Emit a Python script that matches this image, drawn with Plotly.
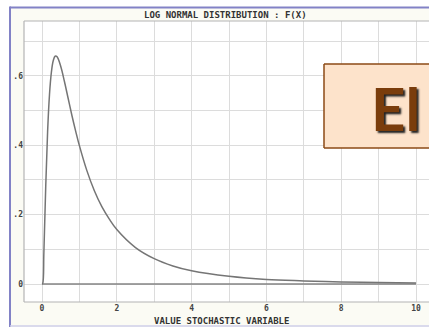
import plotly.graph_objects as go

W, H = 429, 327

# Curve readings (value of stochastic variable, f(x))
x_vals = [0.0, 0.02, 0.05, 0.1, 0.15, 0.2, 0.25, 0.3, 0.35, 0.4, 0.5, 0.6, 0.7, 0.8, 0.9, 1.0,
          1.2, 1.4, 1.6, 1.8, 2.0, 2.5, 3.0, 3.5, 4.0, 5.0, 6.0, 7.0, 8.0, 9.0, 10.0]
y_vals = [0.0, 0.002, 0.090, 0.282, 0.440, 0.546, 0.610, 0.644, 0.657, 0.656, 0.628, 0.584,
          0.535, 0.486, 0.441, 0.399, 0.327, 0.269, 0.223, 0.187, 0.157, 0.105, 0.073, 0.052,
          0.038, 0.022, 0.013, 0.009, 0.006, 0.004, 0.003]
base_x = [0.0, 10.0]
base_y = [0.0, 0.0]

x_ticks = [0, 1, 2, 3, 4, 5, 6, 7, 8, 9, 10]
x_ticktext = ["0", "", "2", "", "4", "", "6", "", "8", "", "10"]
y_ticks = [0, 0.1, 0.2, 0.3, 0.4, 0.5, 0.6, 0.7]
y_ticktext = ["0", "", ".2", "", ".4", "", ".6", ""]

title_text = "LOG NORMAL DISTRIBUTION : F(X)"
xtitle_text = "VALUE STOCHASTIC VARIABLE"
overlay_text = "El"

def px(x):
    return x / W

def py(y):
    return 1 - y / H

plot_l, plot_t, plot_b = 24, 21, 302
x0_px, x_scale = 42, 37.4
y0_px, y_scale = 284, 346.7

xr = [(plot_l - x0_px) / x_scale, (W - x0_px) / x_scale]
yr = [(y0_px - plot_b) / y_scale, (y0_px - plot_t) / y_scale]

fig = go.Figure()
fig.add_trace(go.Scatter(x=base_x, y=base_y, mode="lines",
                         line=dict(color="#858585", width=1.6), hoverinfo="skip"))
fig.add_trace(go.Scatter(x=x_vals, y=y_vals, mode="lines", line_shape="spline",
                         line=dict(color="#757575", width=1.5), hoverinfo="skip"))

mono = "DejaVu Sans Mono"
bold = lambda s: f"<b>{s}</b>" if s else ""

def hline(y, x0, x1, color, width):
    return dict(type="line", xref="paper", yref="paper", x0=px(x0), x1=px(x1), y0=py(y), y1=py(y),
                line=dict(color=color, width=width))

def vline(x, y0, y1, color, width):
    return dict(type="line", xref="paper", yref="paper", x0=px(x), x1=px(x), y0=py(y0), y1=py(y1),
                line=dict(color=color, width=width))

fig.update_layout(
    width=W, height=H,
    margin=dict(l=0, r=0, t=0, b=0),
    paper_bgcolor="white",
    plot_bgcolor="white",
    showlegend=False,
    xaxis=dict(domain=[px(plot_l), 1], range=xr, tickvals=x_ticks,
               ticktext=[bold(t) for t in x_ticktext],
               showgrid=True, gridcolor="#dcdcdc", gridwidth=1, zeroline=False,
               showline=False, ticks="", tickfont=dict(family=mono, size=8, color="#444"),
               fixedrange=True),
    yaxis=dict(domain=[py(plot_b), py(plot_t)], range=yr, tickvals=y_ticks,
               ticktext=[bold(t) for t in y_ticktext],
               showgrid=True, gridcolor="#dcdcdc", gridwidth=1, zeroline=False,
               showline=False, ticks="", tickfont=dict(family=mono, size=8, color="#444"),
               fixedrange=True),
    shapes=[
        dict(type="rect", xref="paper", yref="paper", x0=px(10), x1=1.0, y0=0, y1=py(8),
             fillcolor="#fbfbf4", line=dict(width=0), layer="below"),
        dict(type="rect", xref="paper", yref="paper", x0=px(plot_l), x1=1.0, y0=py(plot_b), y1=py(plot_t),
             fillcolor="white", line=dict(width=0), layer="below"),
        # plot frame (open on the right, cropped)
        hline(plot_t, plot_l, W, "#b4b4b4", 1.2),
        hline(plot_b, plot_l, W, "#b4b4b4", 1.2),
        vline(plot_l, plot_b, plot_t, "#b4b4b4", 1.2),
        # purple border
        vline(10, H, 6.5, "#8282c6", 2),
        hline(7.5, 10, W, "#8282c6", 2),
        hline(326, 10, W, "#cfcfea", 1.5),
        # overlay box (cropped on the right)
        dict(type="rect", xref="paper", yref="paper", x0=px(324), x1=1.0, y0=py(148), y1=py(64),
             fillcolor="#fde3cb", line=dict(width=0), layer="above"),
        hline(64, 324, W, "#8b4a16", 1.5),
        hline(148, 324, W, "#8b4a16", 1.5),
        vline(324, 148, 64, "#8b4a16", 1.5),
    ],
    annotations=[
        dict(text=bold(title_text), xref="paper", yref="paper", x=px(225), y=py(15),
             showarrow=False, font=dict(family=mono, size=9, color="#333"),
             xanchor="center", yanchor="middle"),
        dict(text=bold(xtitle_text), xref="paper", yref="paper", x=px(221), y=py(321),
             showarrow=False, font=dict(family=mono, size=9, color="#333"),
             xanchor="center", yanchor="middle"),
        dict(text=bold(overlay_text), xref="paper", yref="paper", x=px(369), y=py(108),
             showarrow=False, font=dict(family="Lato", size=60, color="#7a3d0c",
                                         shadow="2px 2px 2px #222"),
             xanchor="left", yanchor="middle"),
    ],
)

fig.write_html("out.html")
